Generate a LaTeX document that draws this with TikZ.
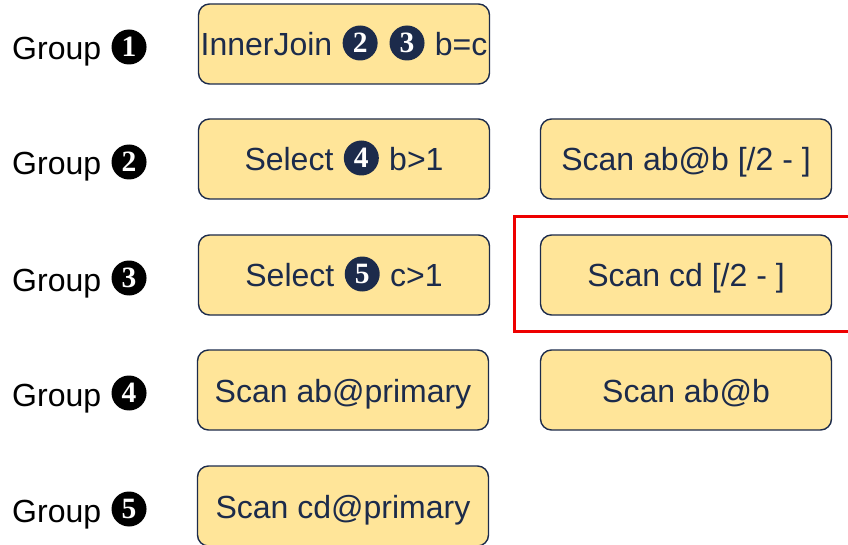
\documentclass[tikz,border=0pt]{standalone}
\usepackage{fontspec}
\setmainfont{Liberation Sans}
\newfontfamily\digitfont{Liberation Serif}
\definecolor{boxfill}{HTML}{FFE599}
\definecolor{boxline}{HTML}{1C2B4B}
\definecolor{hilite}{HTML}{EE0000}
% filled disc with a white serif digit, centred 13pt above the baseline
\newcommand{\cn}[2][boxline]{\hspace{1.5pt}\tikz[baseline={([yshift=-13pt]c.center)}]
  \node[circle, draw=none, fill=#1, text=white, inner sep=0pt, outer sep=0pt,
    minimum size=35pt, line width=0pt, rounded corners=0pt,
    text height=, text depth=,
    font=\digitfont\bfseries\fontsize{29.5}{32}\selectfont] (c) {#2};\hspace{1.5pt}}
\begin{document}
\begin{tikzpicture}[x=1pt,y=-1pt,
  opbox/.style={draw=boxline, line width=1.4pt, fill=boxfill, rounded corners=11pt,
    text=boxline, minimum width=291pt, minimum height=80pt, inner sep=0pt,
    text height=24pt, text depth=0pt,
    font=\fontsize{32}{38}\selectfont},
  grouplabel/.style={anchor=base west, inner sep=0pt, text=black,
    font=\fontsize{32}{38}\selectfont},
  highlight/.style={draw=hilite, line width=3pt}]
  \clip (0,0) rectangle (848,545);

  % group labels
  \node[grouplabel] (g1) at (12,60)  {Group \cn[black]{1}};
  \node[grouplabel] (g2) at (12,175) {Group \cn[black]{2}};
  \node[grouplabel] (g3) at (12,291) {Group \cn[black]{3}};
  \node[grouplabel] (g4) at (12,406) {Group \cn[black]{4}};
  \node[grouplabel] (g5) at (12,522) {Group \cn[black]{5}};

  % first column of operators
  \node[opbox] (ij)  at (344,44)  {InnerJoin \cn{2} \cn{3} b=c};
  \node[opbox] (sb)  at (344,159) {Select \cn{4} b>1};
  \node[opbox] (sc)  at (344,275) {Select \cn{5} c>1};
  \node[opbox] (sap) at (343,390) {Scan ab@primary};
  \node[opbox] (scp) at (343,506) {Scan cd@primary};

  % second column of operators
  \node[opbox] (sab2) at (686,159) {Scan ab@b [/2 - ]};
  \node[opbox] (scd2) at (686,275) {Scan cd [/2 - ]};
  \node[opbox] (sab)  at (686,390) {Scan ab@b};

  % highlight frame around the cd range scan
  \draw[highlight] (514,217) rectangle (852,331);
\end{tikzpicture}
\end{document}
